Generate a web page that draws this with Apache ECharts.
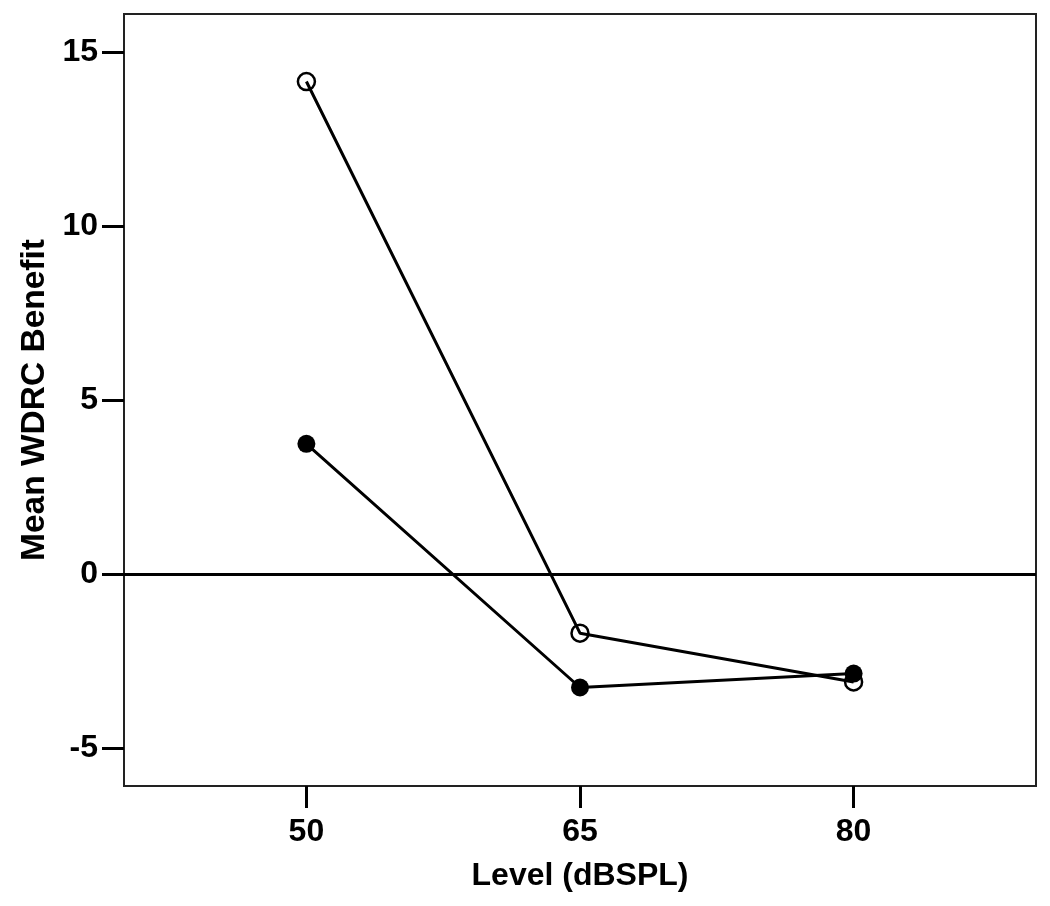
<!DOCTYPE html>
<html>
<head>
<meta charset="utf-8">
<script src="https://cdn.jsdelivr.net/npm/echarts@6/dist/echarts.min.js"></script>
<style>html,body{margin:0;padding:0;background:#fff}#c{width:1050px;height:906px}</style>
</head>
<body>
<div id="c"></div>
<script>
var levels = [50, 65, 80];
var openValues = [14.15, -1.70, -3.10];
var filledValues = [3.74, -3.26, -2.86];
var xTicks = [50, 65, 80];
var yTicks = [-5, 0, 5, 10, 15];

function pairs(xs, ys) { return xs.map(function (x, i) { return [x, ys[i]]; }); }

var font = 'Arial, "Liberation Sans", sans-serif';
var chart = echarts.init(document.getElementById('c'));
chart.setOption({
  animation: false,
  backgroundColor: '#fff',
  grid: { left: 124, right: 14, top: 14, bottom: 120, show: true, borderColor: '#222', borderWidth: 2, outerBoundsMode: 'none', containLabel: false },
  xAxis: {
    type: 'value', min: 40, max: 90,
    name: 'Level (dBSPL)', nameLocation: 'middle', nameGap: 74,
    nameTextStyle: { fontFamily: font, fontWeight: 'bold', fontSize: 32, color: '#000' },
    axisLine: { show: true, onZero: false, lineStyle: { color: '#222', width: 2 } },
    axisTick: { show: true, inside: false, length: 22, customValues: xTicks, lineStyle: { color: '#000', width: 3 } },
    axisLabel: { customValues: xTicks, margin: 30, fontFamily: font, fontWeight: 'bold', fontSize: 32, color: '#000' },
    splitLine: { show: false }
  },
  yAxis: {
    type: 'value', min: -6.09, max: 16.09,
    name: 'Mean WDRC Benefit', nameLocation: 'middle', nameGap: 70,
    nameTextStyle: { fontFamily: font, fontWeight: 'bold', fontSize: 33.5, color: '#000' },
    axisLine: { show: true, onZero: false, lineStyle: { color: '#222', width: 2 } },
    axisTick: { show: true, inside: false, length: 22, customValues: yTicks, lineStyle: { color: '#000', width: 3 } },
    axisLabel: { customValues: yTicks, margin: 26, fontFamily: font, fontWeight: 'bold', fontSize: 32, color: '#000' },
    splitLine: { show: false }
  },
  series: [
    {
      type: 'line', data: pairs(levels, openValues),
      symbol: 'circle', symbolSize: 17,
      lineStyle: { color: '#000', width: 3 },
      itemStyle: { color: 'rgba(0,0,0,0)', borderColor: '#000', borderWidth: 2.5 },
      markLine: {
        silent: true, symbol: 'none', label: { show: false },
        lineStyle: { color: '#000', width: 3, type: 'solid' },
        data: [{ yAxis: 0 }]
      },
      z: 2
    },
    {
      type: 'line', data: pairs(levels, filledValues),
      symbol: 'circle', symbolSize: 18,
      lineStyle: { color: '#000', width: 3 },
      itemStyle: { color: '#000', borderColor: '#000', borderWidth: 0 },
      z: 3
    }
  ]
});
</script>
</body>
</html>
